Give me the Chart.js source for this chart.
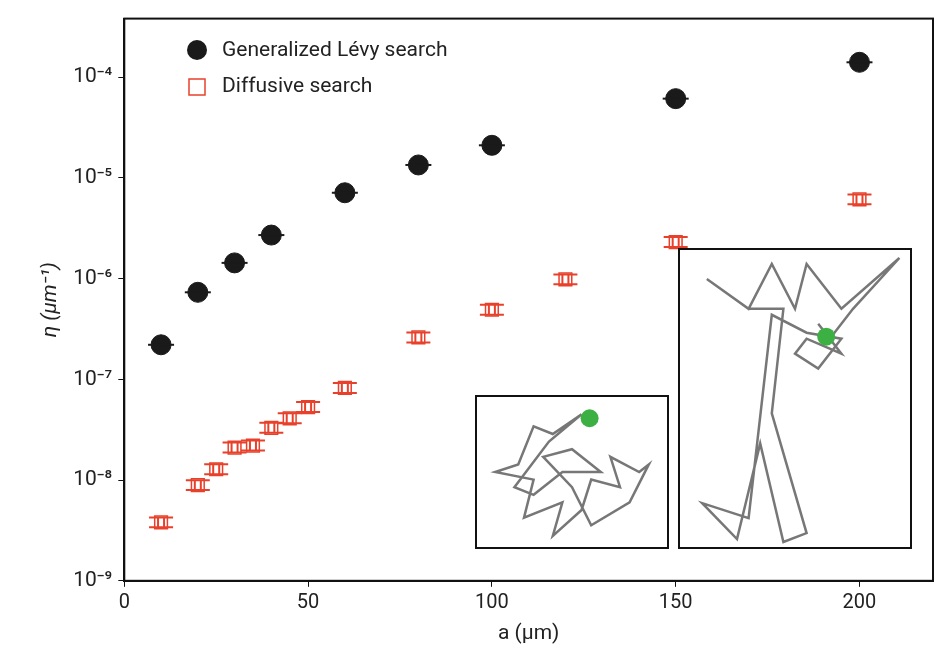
<!DOCTYPE html>
<html lang="en">
<head>
<meta charset="UTF-8">
<title>Lévy vs diffusive search</title>
<style>
  html, body { margin: 0; padding: 0; background: #fff; }
  #wrap { width: 946px; height: 652px; }
</style>
</head>
<body>
<div id="wrap"><canvas id="myChart" width="946" height="652"></canvas></div>
<script src="https://cdn.jsdelivr.net/npm/chart.js"></script>
<script>
var levyX = [10, 20, 30, 40, 60, 80, 100, 150, 200];
var levyY = [2.2e-7, 7.3e-7, 1.43e-6, 2.7e-6, 7.1e-6, 1.34e-5, 2.1e-5, 6.1e-5, 1.4e-4];
var diffX = [10, 20, 25, 30, 35, 40, 45, 50, 60, 80, 100, 120, 150, 200];
var diffY = [3.8e-9, 8.9e-9, 1.28e-8, 2.1e-8, 2.2e-8, 3.3e-8, 4.1e-8, 5.3e-8, 8.2e-8, 2.6e-7, 4.9e-7, 9.8e-7, 2.3e-6, 6.1e-6];
var errFactor = 1.12;
var yTicks = [1e-9, 1e-8, 1e-7, 1e-6, 1e-5, 1e-4];
var yTickLabels = ['10⁻⁹', '10⁻⁸', '10⁻⁷', '10⁻⁶', '10⁻⁵', '10⁻⁴'];
var xTicks = [0, 50, 100, 150, 200];
var legendLabels = ['Generalized Lévy search', 'Diffusive search'];

// inset trajectories (normalized 0..1 within each inset box)
var inset1Path = [[0.55,0.12],[0.4,0.25],[0.3,0.2],[0.22,0.45],[0.1,0.5],[0.3,0.55],[0.25,0.8],[0.45,0.7],[0.4,0.92],[0.55,0.75],[0.6,0.55],[0.75,0.6],[0.7,0.4],[0.85,0.5],[0.9,0.45],[0.8,0.7],[0.6,0.85],[0.5,0.6],[0.35,0.4],[0.5,0.35],[0.65,0.5],[0.45,0.5],[0.3,0.65],[0.2,0.6],[0.38,0.3],[0.55,0.12]];
var inset2Path = [[0.12,0.1],[0.3,0.2],[0.4,0.05],[0.5,0.2],[0.55,0.05],[0.7,0.2],[0.95,0.03],[0.75,0.2],[0.65,0.3],[0.6,0.25],[0.7,0.35],[0.55,0.3],[0.5,0.35],[0.6,0.4],[0.7,0.3],[0.55,0.28],[0.4,0.22],[0.3,0.9],[0.1,0.85],[0.25,0.97],[0.35,0.65],[0.45,0.98],[0.55,0.95],[0.4,0.55],[0.45,0.2],[0.3,0.2]];

var errorBars = {
  id: 'errorBars',
  afterDatasetsDraw: function (chart) {
    var ctx = chart.ctx, xs = chart.scales.x, ys = chart.scales.y;
    ctx.save();
    ctx.lineWidth = 2;
    [[levyX, levyY, '#1a1a1a', true], [diffX, diffY, '#e8402a', false]].forEach(function (s) {
      ctx.strokeStyle = s[2];
      s[0].forEach(function (x, i) {
        var px = xs.getPixelForValue(x);
        var hi = ys.getPixelForValue(s[1][i] * errFactor);
        var lo = ys.getPixelForValue(s[1][i] / errFactor);
        ctx.beginPath();
        if (s[3]) {
          ctx.moveTo(px - 13, (hi + lo) / 2); ctx.lineTo(px + 13, (hi + lo) / 2);
        } else {
          ctx.moveTo(px - 12, hi); ctx.lineTo(px + 12, hi);
          ctx.moveTo(px - 12, lo); ctx.lineTo(px + 12, lo);
          ctx.moveTo(px - 3, hi); ctx.lineTo(px - 3, lo);
          ctx.moveTo(px + 3, hi); ctx.lineTo(px + 3, lo);
        }
        ctx.stroke();
      });
    });
    ctx.restore();
  }
};

var decor = {
  id: 'decor',
  afterDraw: function (chart) {
    var ctx = chart.ctx, a = chart.chartArea;
    ctx.save();
    // frame
    ctx.strokeStyle = '#111'; ctx.lineWidth = 2;
    ctx.strokeRect(a.left, a.top, a.right - a.left, a.bottom - a.top);
    // legend
    ctx.fillStyle = '#1a1a1a';
    ctx.beginPath(); ctx.arc(197, 50, 10, 0, Math.PI * 2); ctx.fill();
    ctx.strokeStyle = '#e8402a'; ctx.lineWidth = 1.5;
    ctx.strokeRect(189, 79, 16, 16);
    ctx.fillStyle = '#222';
    ctx.font = '21px Roboto, "Noto Sans", sans-serif';
    ctx.textBaseline = 'middle';
    ctx.fillText(legendLabels[0], 222, 51);
    ctx.fillText(legendLabels[1], 222, 87);
    // insets
    var boxes = [[476, 396, 192, 152, inset1Path, [0.55, 0.12]], [679, 249, 232, 299, inset2Path, [0.6, 0.28]]];
    boxes.forEach(function (b) {
      ctx.fillStyle = '#fff';
      ctx.fillRect(b[0], b[1], b[2], b[3]);
      ctx.strokeStyle = '#111'; ctx.lineWidth = 2;
      ctx.strokeRect(b[0], b[1], b[2], b[3]);
      ctx.strokeStyle = '#777'; ctx.lineWidth = 2.5;
      ctx.beginPath();
      b[4].forEach(function (p, i) {
        var px = b[0] + p[0] * b[2], py = b[1] + p[1] * b[3];
        if (i === 0) ctx.moveTo(px, py); else ctx.lineTo(px, py);
      });
      ctx.stroke();
      ctx.fillStyle = '#3cb043';
      ctx.beginPath(); ctx.arc(b[0] + b[5][0] * b[2] + 8, b[1] + b[5][1] * b[3] + 4, 9, 0, Math.PI * 2); ctx.fill();
    });
    ctx.restore();
  }
};

new Chart(document.getElementById('myChart'), {
  type: 'scatter',
  data: {
    datasets: [{
      label: legendLabels[0],
      data: levyX.map(function (x, i) { return { x: x, y: levyY[i] }; }),
      pointStyle: 'circle', pointRadius: 10,
      backgroundColor: '#1a1a1a', borderColor: '#1a1a1a'
    }, {
      label: legendLabels[1],
      data: diffX.map(function (x, i) { return { x: x, y: diffY[i] }; }),
      pointStyle: 'rect', pointRadius: 9, borderWidth: 1.5,
      backgroundColor: 'rgba(0,0,0,0)', borderColor: '#e8402a'
    }]
  },
  options: {
    responsive: false,
    animation: false,
    layout: { padding: { top: 2, right: 13, left: 34, bottom: 4 } },
    plugins: { legend: { display: false }, tooltip: { enabled: false } },
    scales: {
      x: {
        type: 'linear', min: 0, max: 220,
        afterBuildTicks: function (a) { a.ticks = xTicks.map(function (v) { return { value: v }; }); },
        ticks: { color: '#222', font: { size: 20, family: 'Roboto, "Noto Sans", sans-serif' }, padding: 4 },
        grid: { drawOnChartArea: false, tickLength: 6, color: '#111' },
        border: { color: '#111', width: 2 },
        title: { display: true, text: 'a (μm)', color: '#222', font: { size: 21, family: 'Roboto, "Noto Sans", sans-serif' }, padding: 2 }
      },
      y: {
        type: 'logarithmic', min: 1e-9, max: 3.8e-4,
        afterBuildTicks: function (a) { a.ticks = yTicks.map(function (v) { return { value: v }; }); },
        ticks: {
          color: '#222', font: { size: 21, family: 'Roboto, "Noto Sans", sans-serif' }, padding: 6,
          callback: function (v) { var i = yTicks.indexOf(v); return i >= 0 ? yTickLabels[i] : ''; }
        },
        grid: { drawOnChartArea: false, tickLength: 6, color: '#111' },
        border: { color: '#111', width: 2 },
        title: { display: true, text: 'η (μm⁻¹)', color: '#222', font: { size: 21, style: 'italic', family: 'Roboto, "Noto Sans", sans-serif' } }
      }
    }
  },
  plugins: [errorBars, decor]
});
</script>
</body>
</html>
